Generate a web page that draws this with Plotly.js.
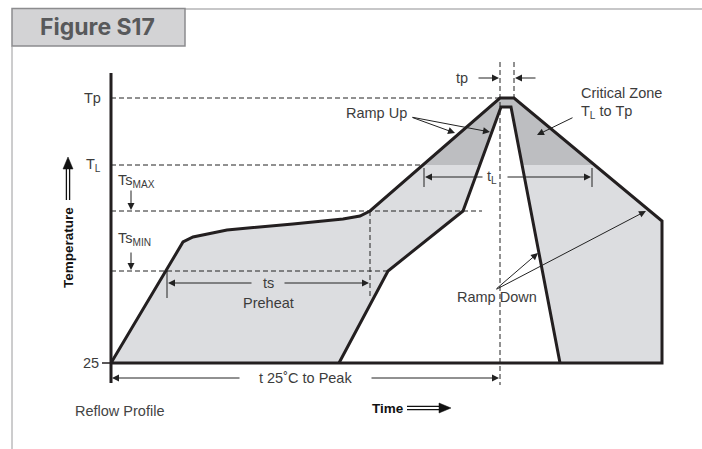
<!DOCTYPE html>
<html><head><meta charset="utf-8">
<script src="https://cdn.plot.ly/plotly-3.0.1.min.js"></script>
<style>html,body{margin:0;padding:0;background:#fff}#chart{width:702px;height:449px}</style>
</head><body><div id="chart"></div>
<script>
// ---- Data (schematic reflow profile: time units / temperature units) ----
const levelLabels = ['25', 'Ts<sub>MIN</sub>', 'Ts<sub>MAX</sub>', 'T<sub>L</sub>', 'Tp'];
const levelValues = [0, 92, 152, 198, 265];

// Outer (maximum) profile
const outerTime = [0, 72, 82, 116, 182, 232, 249, 259, 389, 403, 551, 551];
const outerTemp = [0, 121, 126, 133, 139, 144, 147, 152, 265, 265, 142, 0];

// Inner (minimum) profile
const innerTime = [228, 277, 352, 390, 400, 449];
const innerTemp = [0, 92, 152, 256, 256, 0];

// Time markers
const markerNames = ['tsStart', 'tsEnd', 'tLStart', 'tLEnd', 'tpStart', 'tpEnd', 'tsMaxEnd'];
const markerTimes = [56, 259, 313, 481, 389, 403, 371];

const T25 = levelValues[0], TSMIN = levelValues[1], TSMAX = levelValues[2], TL = levelValues[3], TP = levelValues[4];
const mt = n => markerTimes[markerNames.indexOf(n)];

// ---- helpers ----
function clipAbove(xs, ys, level) {
  const ox = [], oy = [];
  const n = xs.length;
  for (let i = 0; i < n; i++) {
    const j = (i + 1) % n;
    const ai = ys[i] >= level, aj = ys[j] >= level;
    if (ai) { ox.push(xs[i]); oy.push(ys[i]); }
    if (ai !== aj) {
      const t = (level - ys[i]) / (ys[j] - ys[i]);
      ox.push(xs[i] + t * (xs[j] - xs[i])); oy.push(level);
    }
  }
  return [ox, oy];
}
function crossX(xs, ys, level, fromLeft) {
  for (let k = 0; k < xs.length - 1; k++) {
    const i = fromLeft ? k : xs.length - 2 - k;
    const y0 = ys[i], y1 = ys[i + 1];
    if ((y0 - level) * (y1 - level) <= 0 && y0 !== y1) {
      return xs[i] + (level - y0) / (y1 - y0) * (xs[i + 1] - xs[i]);
    }
  }
  return null;
}

const INK = '#231f20';
const LIGHT = '#dcdde0';
const DARK = '#bdbec1';
const TXT = '#3c3c3c';
const FONT = 'Liberation Sans, Arial, sans-serif';

const traces = [];
// fills
traces.push({x: outerTime, y: outerTemp, mode: 'lines', fill: 'toself', fillcolor: LIGHT, line: {width: 0}});
const [dx, dy] = clipAbove(outerTime, outerTemp, TL);
traces.push({x: dx, y: dy, mode: 'lines', fill: 'toself', fillcolor: DARK, line: {width: 0}});
traces.push({x: innerTime, y: innerTemp, mode: 'lines', fill: 'toself', fillcolor: '#ffffff', line: {width: 0}});

// dashed guide lines
const dash = {color: '#222', width: 1, dash: '5px,3px'};
function dl(x, y) { traces.push({x, y, mode: 'lines', line: dash}); }
const tlCross = crossX(outerTime, outerTemp, TL, true);
dl([0, outerTime[8]], [TP, TP]);
dl([0, tlCross], [TL, TL]);
dl([0, mt('tsMaxEnd')], [TSMAX, TSMAX]);
dl([0, innerTime[1]], [TSMIN, TSMIN]);
dl([mt('tsEnd'), mt('tsEnd')], [TSMAX, TSMIN - 27]);
dl([mt('tpStart'), mt('tpStart')], [TP + 36, T25 - 22]);
dl([mt('tpEnd'), mt('tpEnd')], [TP + 36, TP]);

// solid thin ticks
const thin = {color: '#222', width: 1};
function tl(x, y) { traces.push({x, y, mode: 'lines', line: thin}); }
tl([mt('tsStart'), mt('tsStart')], [TSMIN, TSMIN - 27]);
tl([mt('tLStart'), mt('tLStart')], [TL - 3, TL - 22]);
tl([mt('tLEnd'), mt('tLEnd')], [TL - 3, TL - 22]);

// profile lines
traces.push({x: outerTime.concat([outerTime[0]]), y: outerTemp.concat([outerTemp[0]]), mode: 'lines', line: {color: INK, width: 3}});
traces.push({x: innerTime, y: innerTemp, mode: 'lines', line: {color: INK, width: 3}});
// temperature axis
traces.push({x: [0, 0], y: [TP + 25, T25 - 20], mode: 'lines', line: {color: INK, width: 3}});
traces.push({x: [-9, 0], y: [T25, T25], mode: 'lines', line: {color: INK, width: 1.5}});

// double arrows beside axis titles (decoration)
const dbl = {color: '#111', width: 1.3};
traces.push({x: [-44.6, -44.6], y: [163, 196], mode: 'lines', line: dbl});
traces.push({x: [-41.4, -41.4], y: [163, 196], mode: 'lines', line: dbl});
traces.push({x: [-48, -38, -43, -48], y: [194, 194, 206, 194], mode: 'lines', fill: 'toself', fillcolor: '#111', line: {color: '#111', width: 0.5}});
traces.push({x: [296, 330], y: [-43.4, -43.4], mode: 'lines', line: dbl});
traces.push({x: [296, 330], y: [-46.6, -46.6], mode: 'lines', line: dbl});
traces.push({x: [328, 328, 340, 328], y: [-40, -50, -45, -40], mode: 'lines', fill: 'toself', fillcolor: '#111', line: {color: '#111', width: 0.5}});

// ---- annotations ----
const ann = [];
function label(x, y, text, o) {
  o = o || {};
  ann.push({x, y, xref: 'x', yref: 'y', text, showarrow: false,
    xanchor: o.xa || 'center', yanchor: 'middle',
    font: {family: o.family || FONT, size: o.size || 14.5, color: o.color || TXT, weight: o.weight || 400},
    textangle: o.angle || 0});
}
function arrow(x0, y0, x1, y1) {
  ann.push({x: x1, y: y1, ax: x0, ay: y0, xref: 'x', yref: 'y', axref: 'x', ayref: 'y',
    text: '', showarrow: true, arrowhead: 2, arrowsize: 1.4, arrowwidth: 1, arrowcolor: '#222',
    standoff: 0, startstandoff: 0});
}

label(-8, TP, levelLabels[4], {xa: 'right'});
label(-8, TL, levelLabels[3], {xa: 'right'});
label(-10, T25, levelLabels[0], {xa: 'right'});
label(5, TSMAX + 30, levelLabels[2], {xa: 'left'});
label(5, TSMIN + 32, levelLabels[1], {xa: 'left'});
arrow(20, TSMAX + 22, 20, TSMAX + 1);
arrow(20, TSMIN + 20, 20, TSMIN + 1);

// ts / Preheat
label(157, TSMIN - 12, 'ts');
label(157, TSMIN - 32, 'Preheat');
arrow(142, TSMIN - 12, mt('tsStart') + 1, TSMIN - 12);
arrow(172, TSMIN - 12, mt('tsEnd') - 1, TSMIN - 12);

// t 25C to Peak
label(194, T25 - 15, 't 25˚C to Peak');
arrow(130, T25 - 15, 1, T25 - 15);
arrow(259, T25 - 15, mt('tpStart') - 1, T25 - 15);

// tL
label(381, TL - 12, 't<sub>L</sub>');
arrow(373, TL - 12, mt('tLStart') + 1, TL - 12);
arrow(395, TL - 12, mt('tLEnd') - 1, TL - 12);

// tp
label(359, TP + 20, 'tp', {xa: 'right'});
arrow(366, TP + 20, mt('tpStart') - 1, TP + 20);
arrow(426, TP + 20, mt('tpEnd') + 1, TP + 20);

// Ramp Up
label(298, TP - 15, 'Ramp Up', {xa: 'right'});
arrow(300, TP - 19, 344, TP - 35);
arrow(300, TP - 19, 379, TP - 34);

// Critical Zone
label(468, TP + 5, 'Critical Zone', {xa: 'left'});
label(468, TP - 14, 'T<sub>L</sub> to Tp', {xa: 'left'});
arrow(463, TP - 19, 426, TP - 37);

// Ramp Down
label(386, 66, 'Ramp Down');
arrow(384, 73, 427, 110);
arrow(384, 73, 535, 152);

// axis titles
label(-43, 115, 'Temperature', {angle: -90, weight: 700, color: '#111', size: 13.5});
label(259, -45, 'Time', {xa: 'left', weight: 700, color: '#111', size: 13.5});
label(-38, -48, 'Reflow Profile', {xa: 'left', color: '#444'});

// header (paper coords, figure frame)
const W = 702, H = 449;
const px = v => v / W, py = v => 1 - v / H;
ann.push({x: px(97), y: py(27), xref: 'paper', yref: 'paper', text: 'Figure S17', showarrow: false,
  xanchor: 'center', yanchor: 'middle', font: {family: 'Inter, Open Sans, sans-serif', size: 23, color: '#58595b', weight: 700}});

const shapes = [
  {type: 'line', xref: 'paper', yref: 'paper', x0: px(185), x1: px(702), y0: py(9), y1: py(9), line: {color: '#b4b4b6', width: 1.5}},
  {type: 'rect', xref: 'paper', yref: 'paper', x0: px(12), x1: px(185), y0: py(8.5), y1: py(46), fillcolor: '#d3d3d5', line: {color: '#8c8c8e', width: 1.5}},
  {type: 'line', xref: 'paper', yref: 'paper', x0: px(12), x1: px(12), y0: py(46), y1: py(449), line: {color: '#9a9a9c', width: 1}}
];

const layout = {
  width: W, height: H, margin: {l: 0, r: 0, t: 0, b: 0},
  paper_bgcolor: '#ffffff', plot_bgcolor: '#ffffff',
  showlegend: false, hovermode: false,
  xaxis: {range: [-111, 591], visible: false, fixedrange: true},
  yaxis: {range: [-86, 363], visible: false, fixedrange: true},
  annotations: ann, shapes: shapes
};
Plotly.newPlot('chart', traces, layout, {displayModeBar: false, staticPlot: true});
</script></body></html>
